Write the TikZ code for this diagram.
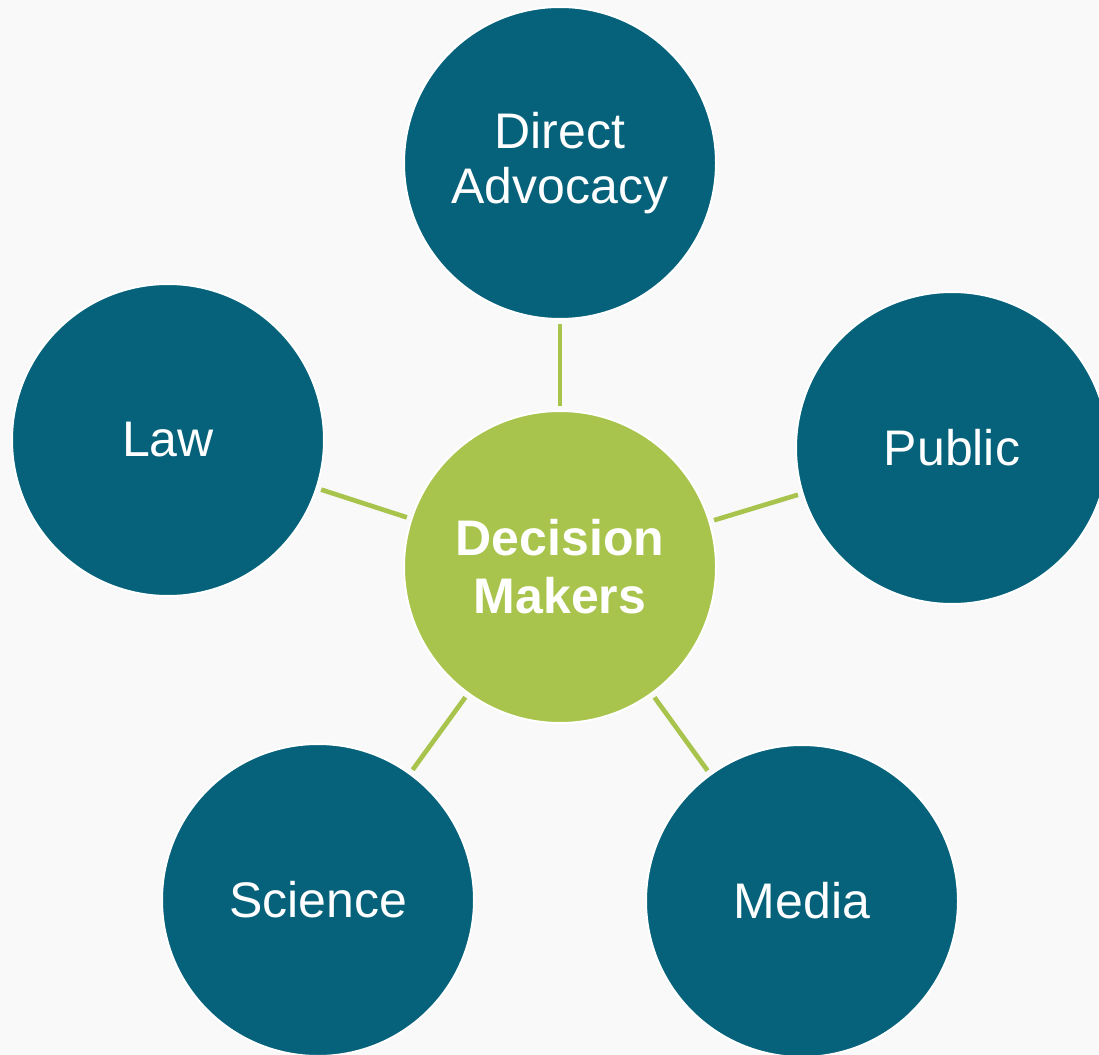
\documentclass[tikz,border=0pt]{standalone}
\usepackage{fontspec}
\setmainfont{Liberation Sans}

\definecolor{hubblue}{RGB}{5,98,122}
\definecolor{hubgreen}{RGB}{168,196,76}
\definecolor{paper}{RGB}{249,249,249}

\tikzset{every picture/.style={line width=0.75pt}}
\tikzset{
  spoke/.style={circle, fill=hubblue, draw=white, line width=1.5, minimum size=234pt, inner sep=0pt, text=white, align=center, font=\fontsize{37.5}{41}\selectfont},
  hub/.style={spoke, fill=hubgreen, font=\fontsize{37.5}{43.5}\selectfont\bfseries},
  link/.style={draw=hubgreen, line width=3.5, shorten >=3pt, shorten <=3pt}
}

\begin{document}
\begin{tikzpicture}[x=0.75pt,y=0.75pt,yscale=-1,xscale=1]
%set diagram left start at 0, and has height of 1055
\fill [paper] (0,0) rectangle (1099,1055);
\useasboundingbox (0,0) rectangle (1099,1055);

% Hub
\node [hub] (dm) at (560,567) {Decision\\Makers};
% Spokes
\node [spoke] (adv) at (560,163) {Direct\\Advocacy};
\node [spoke] (law) at (168,440) {Law};
\node [spoke] (pub) at (952,448) {Public};
\node [spoke] (sci) at (318,900) {Science};
\node [spoke] (med) at (802,901) {Media};

% Links
\draw [link] (dm) -- (adv);
\draw [link] (dm) -- (law);
\draw [link] (dm) -- (pub);
\draw [link] (dm) -- (sci);
\draw [link] (dm) -- (med);

\end{tikzpicture}
\end{document}
